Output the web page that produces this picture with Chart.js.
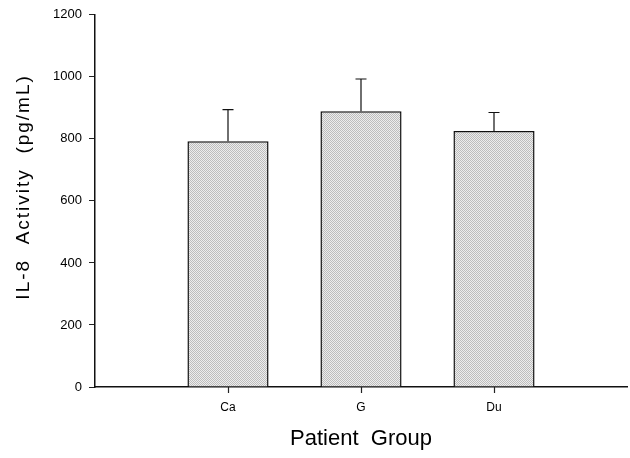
<!DOCTYPE html>
<html>
<head>
<meta charset="utf-8">
<script src="https://cdn.jsdelivr.net/npm/chart.js@4.4.0/dist/chart.umd.min.js"></script>
<style>
html,body{margin:0;padding:0;background:#fff;}
#wrap{width:630px;height:458px;position:relative;}
</style>
</head>
<body>
<div id="wrap"><canvas id="c" width="630" height="458"></canvas></div>
<script>
const categories = ['', 'Ca', 'G', 'Du', ''];
const activity = [null, 792, 889, 825, null];
const errorUp = [null, 102, 104, 60, null];
const yTicks = [0, 200, 400, 600, 800, 1000, 1200];

// stippled grey fill
const pc = document.createElement('canvas');
pc.width = 2; pc.height = 2;
const px = pc.getContext('2d');
px.fillStyle = '#ededed'; px.fillRect(0,0,2,2);
px.fillStyle = '#bdbdbd'; px.fillRect(0,0,1,1); px.fillRect(1,1,1,1);
const ctx0 = document.getElementById('c').getContext('2d');
const stipple = ctx0.createPattern(pc, 'repeat');

const errPlugin = {
  id: 'errbars',
  afterDatasetsDraw(chart) {
    const ctx = chart.ctx;
    const xs = chart.scales.x, ys = chart.scales.y;
    ctx.save();
    ctx.strokeStyle = '#111';
    ctx.lineWidth = 1.2;
    activity.forEach((v, i) => {
      if (v == null) return;
      const x = xs.getPixelForValue(i);
      const y0 = ys.getPixelForValue(v);
      const y1 = ys.getPixelForValue(v + errorUp[i]);
      ctx.beginPath();
      ctx.moveTo(x, y0); ctx.lineTo(x, y1);
      ctx.moveTo(x - 5.5, y1); ctx.lineTo(x + 5.5, y1);
      ctx.stroke();
    });
    ctx.restore();
  },
  afterDraw(chart) {
    // category tick marks below the x axis
    const ctx = chart.ctx;
    const xs = chart.scales.x;
    const yBase = chart.chartArea.bottom;
    ctx.save();
    ctx.lineWidth = 1.2;
    ctx.strokeStyle = '#222';
    categories.forEach((lab, i) => {
      if (!lab) return;
      const x = Math.round(xs.getPixelForValue(i)) + 0.5;
      ctx.beginPath();
      ctx.moveTo(x, yBase);
      ctx.lineTo(x, yBase + 6);
      ctx.stroke();
    });
    ctx.restore();
  }
};

// widen the letter spacing of the y-axis title and nudge it up a little
const titleStyle = {
  id: 'titleStyle',
  afterLayout(chart) {
    const s = chart.scales.y;
    if (s._wrapped) return;
    const orig = s.drawTitle.bind(s);
    s.drawTitle = function () {
      const ctx = chart.ctx;
      ctx.save();
      ctx.letterSpacing = '2px';
      ctx.translate(0, -14);
      orig();
      ctx.restore();
    };
    s._wrapped = true;
  }
};

new Chart(ctx0, {
  type: 'bar',
  data: {
    labels: categories,
    datasets: [{
      data: activity,
      backgroundColor: stipple,
      borderColor: '#111',
      borderWidth: 1.5,
      borderSkipped: 'bottom',
      barPercentage: 0.61,
      categoryPercentage: 1.0
    }]
  },
  options: {
    responsive: false,
    animation: false,
    events: [],
    layout: { padding: { left: 8, right: 3, top: 8, bottom: 6 } },
    plugins: { legend: { display: false }, tooltip: { enabled: false } },
    scales: {
      x: {
        offset: false,
        grid: {
          offset: false,
          drawOnChartArea: false,
          drawTicks: true,
          tickLength: 11,
          color: 'rgba(0,0,0,0)',
          tickColor: 'rgba(0,0,0,0)'
        },
        border: { color: '#111', width: 1.5 },
        ticks: {
          color: '#000',
          font: { family: 'Liberation Sans, Arial, sans-serif', size: 12 },
          padding: 2,
          maxRotation: 0,
          autoSkip: false
        },
        title: {
          display: true,
          text: 'Patient  Group',
          color: '#000',
          font: { family: 'Liberation Sans, Arial, sans-serif', size: 22 },
          padding: { top: 6, bottom: 0 }
        },
        afterFit(s) { s.height = 65; }
      },
      y: {
        min: 0, max: 1200,
        afterBuildTicks(s) { s.ticks = yTicks.map(v => ({ value: v })); },
        grid: {
          drawOnChartArea: false,
          drawTicks: true,
          tickLength: 6,
          tickColor: '#222'
        },
        border: { color: '#111', width: 1.5 },
        ticks: {
          color: '#000',
          font: { family: 'Liberation Sans, Arial, sans-serif', size: 13 },
          padding: 7,
          callback: (v) => String(v)
        },
        title: {
          display: true,
          text: 'IL-8  Activity  (pg/mL)',
          color: '#000',
          font: { family: 'Liberation Sans, Arial, sans-serif', size: 19 },
          padding: { top: 4, bottom: 6 }
        },
        afterFit(s) { s.width = 87; }
      }
    }
  },
  plugins: [errPlugin, titleStyle]
});
</script>
</body>
</html>
